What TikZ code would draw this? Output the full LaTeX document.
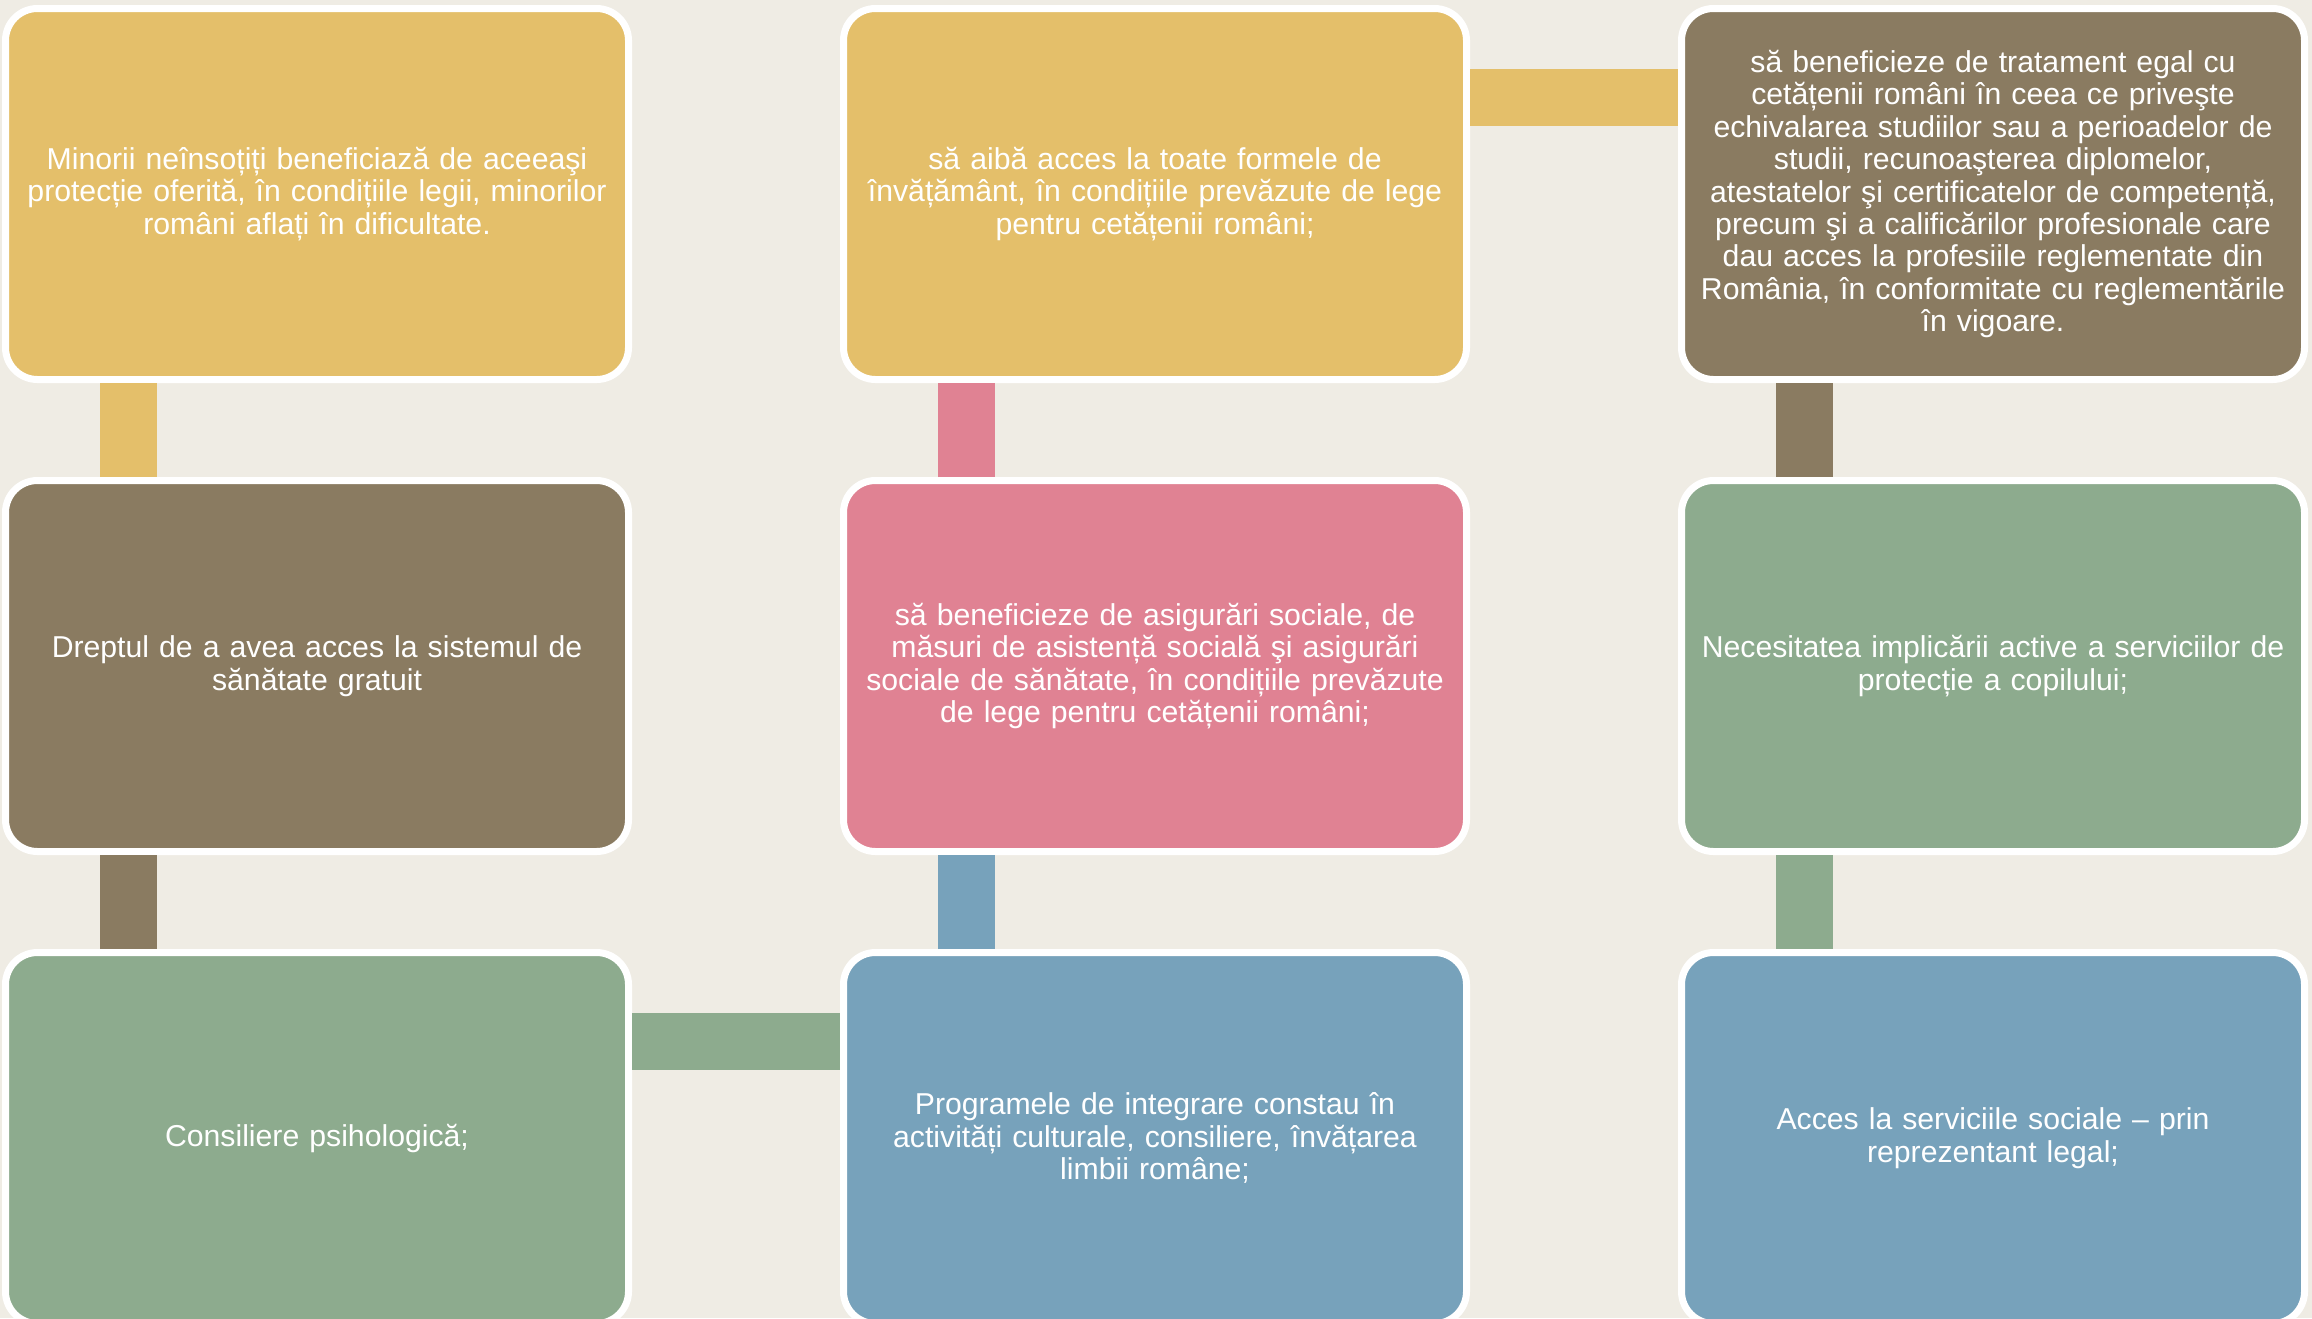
\documentclass[tikz,border=0pt]{standalone}
\usepackage{fontspec}
\setmainfont{Liberation Sans}
\definecolor{bgc}{HTML}{EFECE4}
\definecolor{yellowc}{HTML}{E4BF6A}
\definecolor{brownc}{HTML}{8A7B61}
\definecolor{pinkc}{HTML}{E08293}
\definecolor{greenc}{HTML}{8DAB8E}
\definecolor{bluec}{HTML}{77A2BB}
\tikzset{
  box/.style={rectangle, rounded corners=32pt, draw=white, line width=7pt,
    minimum width=623pt, minimum height=371pt, inner sep=3pt,
    text width=612pt, align=center, text=white,
    font=\fontsize{30.2}{32.4}\selectfont},
  conn/.style={line width=57pt, draw=#1}
}
\begin{document}
\begin{tikzpicture}[x=1pt,y=-1pt]
\fill[bgc] (0,0) rectangle (2312,1318);
\useasboundingbox (0,0) rectangle (2312,1318);
\clip (0,0) rectangle (2312,1318);
% boxes
\node[box, fill=yellowc] (b1) at (317,194) {Minorii neînsoțiți beneficiază de aceeaşi\\protecție oferită, în condițiile legii, minorilor\\români aflați în dificultate.};
\node[box, fill=yellowc] (b2) at (1155,194) {să aibă acces la toate formele de\\învățământ, în condițiile prevăzute de lege\\pentru cetățenii români;};
\node[box, fill=brownc] (b3) at (1993,194) {să beneficieze de tratament egal cu\\cetățenii români în ceea ce priveşte\\echivalarea studiilor sau a perioadelor de\\studii, recunoaşterea diplomelor,\\atestatelor şi certificatelor de competență,\\precum şi a calificărilor profesionale care\\dau acces la profesiile reglementate din\\România, în conformitate cu reglementările\\în vigoare.};
\node[box, fill=brownc] (b4) at (317,666) {Dreptul de a avea acces la sistemul de\\sănătate gratuit};
\node[box, fill=pinkc] (b5) at (1155,666) {să beneficieze de asigurări sociale, de\\măsuri de asistență socială şi asigurări\\sociale de sănătate, în condițiile prevăzute\\de lege pentru cetățenii români;};
\node[box, fill=greenc] (b6) at (1993,666) {Necesitatea implicării active a serviciilor de\\protecție a copilului;};
\node[box, fill=greenc] (b7) at (317,1138) {Consiliere psihologică;};
\node[box, fill=bluec] (b8) at (1155,1138) {Programele de integrare constau în\\activități culturale, consiliere, învățarea\\limbii române;};
\node[box, fill=bluec] (b9) at (1993,1138) {Acces la serviciile sociale – prin\\reprezentant legal;};
% connectors
\draw[conn=yellowc] ([xshift=-188.5pt]b1.south) -- ([xshift=-188.5pt]b4.north);
\draw[conn=brownc] ([xshift=-188.5pt]b4.south) -- ([xshift=-188.5pt]b7.north);
\draw[conn=greenc] ([yshift=96.5pt]b7.east) -- ([yshift=96.5pt]b8.west);
\draw[conn=bluec] ([xshift=-188.5pt]b8.north) -- ([xshift=-188.5pt]b5.south);
\draw[conn=pinkc] ([xshift=-188.5pt]b5.north) -- ([xshift=-188.5pt]b2.south);
\draw[conn=yellowc] ([yshift=96.5pt]b2.east) -- ([yshift=96.5pt]b3.west);
\draw[conn=brownc] ([xshift=-188.5pt]b3.south) -- ([xshift=-188.5pt]b6.north);
\draw[conn=greenc] ([xshift=-188.5pt]b6.south) -- ([xshift=-188.5pt]b9.north);
\end{tikzpicture}
\end{document}
